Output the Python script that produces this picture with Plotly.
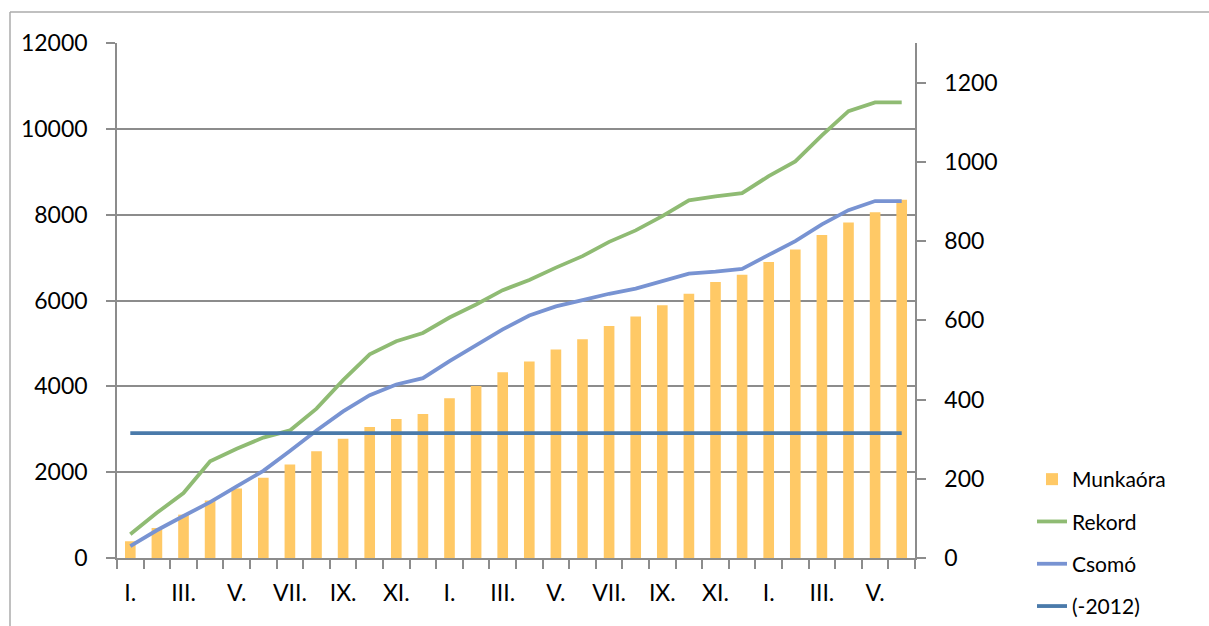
import plotly.graph_objects as go

# --- data ---
months = ["I.", "II.", "III.", "IV.", "V.", "VI.", "VII.", "VIII.", "IX.", "X.", "XI.", "XII.",
          "I.", "II.", "III.", "IV.", "V.", "VI.", "VII.", "VIII.", "IX.", "X.", "XI.", "XII.",
          "I.", "II.", "III.", "IV.", "V.", "VI."]
munkaora = [390, 700, 1010, 1340, 1620, 1870, 2180, 2490, 2780, 3050, 3240, 3355,
            3720, 4010, 4330, 4580, 4860, 5100, 5405, 5630, 5890, 6160, 6430, 6600,
            6900, 7190, 7525, 7820, 8055, 8350]
rekord = [60, 114, 164, 244, 276, 304, 322, 377, 449, 514, 547, 568,
          607, 640, 676, 702, 733, 762, 798, 827, 863, 903, 913, 921,
          964, 1001, 1067, 1128, 1150, 1150]
csomo = [30, 70, 106, 141, 181, 220, 270, 322, 370, 411, 438, 454,
         497, 537, 577, 612, 635, 651, 667, 680, 699, 718, 723, 730,
         765, 800, 842, 878, 901, 901]
elozo_2012 = [315] * 30

left_ticks = [0, 2000, 4000, 6000, 8000, 10000, 12000]
right_ticks = [0, 200, 400, 600, 800, 1000, 1200]

x = list(range(len(months)))
label_idx = x[::2]

FONT = "Lato, 'Liberation Sans', Arial, sans-serif"
AXC = "#8c8c8c"

fig = go.Figure()
fig.add_trace(go.Bar(x=x, y=munkaora, name="Munkaóra", legendgroup="a",
                     marker=dict(color="#FFC966", line=dict(width=0)),
                     width=0.4, yaxis="y"))
fig.add_trace(go.Scatter(x=x, y=rekord, name="Rekord", mode="lines", legendgroup="b",
                         line=dict(color="#8FBB73", width=3.8), yaxis="y2"))
fig.add_trace(go.Scatter(x=x, y=csomo, name="Csomó", mode="lines", legendgroup="c",
                         line=dict(color="#7893D2", width=3.8), yaxis="y2"))
fig.add_trace(go.Scatter(x=x, y=elozo_2012, name="(-2012)", mode="lines", legendgroup="d",
                         line=dict(color="#4A7AAA", width=3.8), yaxis="y2"))

L, R, T, B = 117, 915, 43, 558
W, H = 1209, 626

def px_x(p):
    return (p - L) / (R - L)

def px_y(p):
    return (B - p) / (B - T)

frame = "#ababab"
shapes = [
    dict(type="line", xref="paper", yref="paper", x0=px_x(10), x1=px_x(W + 5), y0=px_y(12), y1=px_y(12),
         line=dict(color=frame, width=1.5)),
    dict(type="line", xref="paper", yref="paper", x0=px_x(10), x1=px_x(10), y0=px_y(12), y1=px_y(H + 5),
         line=dict(color=frame, width=1.5)),
]

fig.update_layout(
    width=W, height=H,
    margin=dict(l=L, r=W - R, t=T, b=H - B, pad=0, autoexpand=False),
    paper_bgcolor="white", plot_bgcolor="white",
    font=dict(family=FONT, size=23, color="#000000"),
    showlegend=True,
    legend=dict(x=px_x(1032), y=px_y(459), xanchor="left", yanchor="top",
                font=dict(size=21, family=FONT, color="#000000"),
                bgcolor="rgba(0,0,0,0)", tracegroupgap=12, traceorder="grouped"),
    xaxis=dict(range=[-0.5, len(months) - 0.5], tickmode="array", tickvals=label_idx,
               ticktext=[months[i] for i in label_idx], ticks="", showgrid=False,
               showline=True, linecolor=AXC, linewidth=1.5, zeroline=False,
               ticklabelstandoff=14,
               minor=dict(tickmode="array", tickvals=[i - 0.5 for i in range(len(months) + 1)],
                          ticks="outside", ticklen=9, tickcolor=AXC, tickwidth=1.5, showgrid=False)),
    yaxis=dict(range=[0, 12000], tickmode="array", tickvals=left_ticks,
               ticktext=[str(v) for v in left_ticks], showgrid=True,
               gridcolor=AXC, gridwidth=1.5, showline=True, linecolor=AXC, linewidth=1.5,
               ticks="outside", ticklen=9, tickcolor=AXC, tickwidth=1.5, zeroline=False,
               ticklabelstandoff=14),
    yaxis2=dict(range=[0, 1300], tickmode="array", tickvals=right_ticks,
                ticktext=[str(v) for v in right_ticks], overlaying="y", side="right",
                showgrid=False, showline=True, linecolor=AXC, linewidth=1.5,
                ticks="outside", ticklen=9, tickcolor=AXC, tickwidth=1.5, zeroline=False,
                ticklabelstandoff=14),
    shapes=shapes,
)

fig.write_html("out.html", config={"displayModeBar": False},
               post_script="document.body.style.margin='0px';")
